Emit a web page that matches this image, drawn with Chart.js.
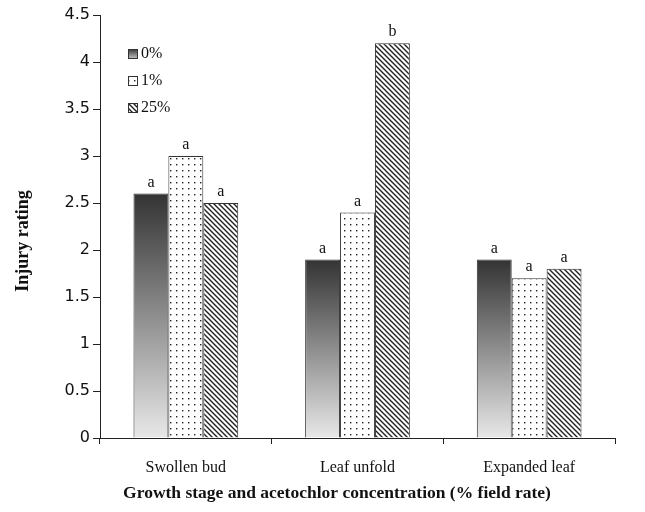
<!DOCTYPE html>
<html>
<head>
<meta charset="utf-8">
<script src="https://cdn.jsdelivr.net/npm/chart.js@4.4.1/dist/chart.umd.min.js"></script>
<style>
  body { margin: 0; background: #fff; }
  #wrap { width: 645px; height: 512px; }
</style>
</head>
<body>
<div id="wrap"><canvas id="myChart"></canvas></div>
<script>
var stages = ["Swollen bud", "Leaf unfold", "Expanded leaf"];
var rates = ["0%", "1%", "25%"];
var rate0 = [2.6, 1.9, 1.9];
var rate1 = [3.0, 2.4, 1.7];
var rate25 = [2.5, 4.2, 1.8];
var letters0 = ["a", "a", "a"];
var letters1 = ["a", "a", "a"];
var letters25 = ["a", "b", "a"];
var yTicks = [0, 0.5, 1, 1.5, 2, 2.5, 3, 3.5, 4, 4.5];
var xTitle = "Growth stage and acetochlor concentration (% field rate)";
var yTitle = "Injury rating";

// fill patterns
function dotPattern() {
  var c = document.createElement("canvas");
  c.width = 6; c.height = 6;
  var x = c.getContext("2d");
  x.fillStyle = "#fff"; x.fillRect(0, 0, 6, 6);
  x.fillStyle = "#222"; x.fillRect(2, 2, 1.4, 1.4);
  return x.createPattern(c, "repeat");
}
function hatchPattern() {
  var s = 5;
  var c = document.createElement("canvas");
  c.width = s; c.height = s;
  var x = c.getContext("2d");
  x.fillStyle = "#fff"; x.fillRect(0, 0, s, s);
  x.strokeStyle = "#222"; x.lineWidth = 1.4;
  x.beginPath();
  x.moveTo(-1, -1); x.lineTo(s + 1, s + 1);
  x.moveTo(-1, s - 1); x.lineTo(1, s + 1);
  x.moveTo(s - 1, -1); x.lineTo(s + 1, 1);
  x.stroke();
  return x.createPattern(c, "repeat");
}
var dots = dotPattern();
var hatch = hatchPattern();

function darkGradient(ctx) {
  var chart = ctx.chart;
  if (!chart.chartArea || ctx.raw === undefined) return "#777";
  var ys = chart.scales.y;
  var top = ys.getPixelForValue(ctx.raw);
  var bottom = ys.getPixelForValue(0);
  var g = chart.ctx.createLinearGradient(0, top, 0, bottom);
  g.addColorStop(0, "#333333");
  g.addColorStop(1, "#e8e8e8");
  return g;
}

var letterPlugin = {
  id: "letters",
  afterDatasetsDraw: function(chart) {
    var c = chart.ctx;
    var all = [letters0, letters1, letters25];
    c.save();
    c.font = "16px 'Liberation Serif'";
    c.fillStyle = "#111";
    c.textAlign = "center";
    c.textBaseline = "bottom";
    chart.data.datasets.forEach(function(ds, i) {
      chart.getDatasetMeta(i).data.forEach(function(bar, j) {
        c.fillText(all[i][j], bar.x, bar.y - 3);
      });
    });
    c.restore();
  }
};

// axis titles sit a bit off-centre in the original, so draw them by hand
var titlePlugin = {
  id: "axisTitles",
  afterDraw: function(chart) {
    var c = chart.ctx;
    c.save();
    c.fillStyle = "#111";
    c.textAlign = "center";
    c.textBaseline = "middle";
    c.font = "bold 17.5px 'Liberation Serif'";
    c.fillText(xTitle, 337, 493);
    c.translate(23, 241);
    c.rotate(-Math.PI / 2);
    c.font = "bold 18px 'Liberation Serif'";
    c.fillText(yTitle, 0, 0);
    c.restore();
  }
};

var legendPlugin = {
  id: "boxLegend",
  afterDraw: function(chart) {
    var c = chart.ctx;
    var fills = [null, dots, hatch];
    var x0 = chart.chartArea.left + 28;
    var rowsY = [54, 81, 108];
    c.save();
    c.font = "16px 'Liberation Serif'";
    c.textBaseline = "middle";
    c.fillStyle = "#111";
    rates.forEach(function(r, i) {
      var y = rowsY[i];
      if (i === 0) {
        var g = c.createLinearGradient(0, y - 5, 0, y + 5);
        g.addColorStop(0, "#333333");
        g.addColorStop(1, "#c8c8c8");
        c.fillStyle = g;
      } else {
        c.fillStyle = fills[i];
      }
      c.fillRect(x0, y - 5, 10, 10);
      c.strokeStyle = "#333";
      c.lineWidth = 1;
      c.strokeRect(x0 + 0.5, y - 4.5, 9, 9);
      c.fillStyle = "#111";
      c.fillText(r, x0 + 13, y);
    });
    c.restore();
  }
};

var ctx = document.getElementById("myChart");
var myChart = new Chart(ctx, {
  type: "bar",
  data: {
    labels: stages,
    datasets: [
      { label: rates[0], data: rate0, backgroundColor: darkGradient },
      { label: rates[1], data: rate1, backgroundColor: dots },
      { label: rates[2], data: rate25, backgroundColor: hatch }
    ]
  },
  options: {
    responsive: true,
    maintainAspectRatio: false,
    animation: false,
    layout: { padding: { left: 0, right: 30, top: 15, bottom: 8 } },
    datasets: {
      bar: {
        categoryPercentage: 0.61,
        barPercentage: 1.0,
        borderWidth: 1,
        borderColor: "#333"
      }
    },
    plugins: {
      legend: { display: false },
      tooltip: { enabled: false }
    },
    scales: {
      x: {
        grid: {
          display: true,
          offset: true,
          drawOnChartArea: false,
          color: "#222",
          tickLength: 6
        },
        border: { color: "#222", width: 1 },
        ticks: {
          color: "#111",
          font: { family: "'Liberation Serif'", size: 16 },
          padding: 14
        },
        afterFit: function(s) { s.height = 66; }
      },
      y: {
        min: 0,
        max: 4.5,
        afterBuildTicks: function(s) {
          s.ticks = yTicks.map(function(v) { return { value: v }; });
        },
        grid: {
          display: true,
          drawOnChartArea: false,
          color: "#222",
          tickLength: 7
        },
        border: { color: "#222", width: 1 },
        ticks: {
          color: "#111",
          font: { family: "'DejaVu Sans'", size: 16 },
          padding: 3,
          callback: function(v) { return String(v); }
        },
        afterFit: function(s) { s.width = 100; }
      }
    }
  },
  plugins: [letterPlugin, legendPlugin, titlePlugin]
});
</script>
</body>
</html>
